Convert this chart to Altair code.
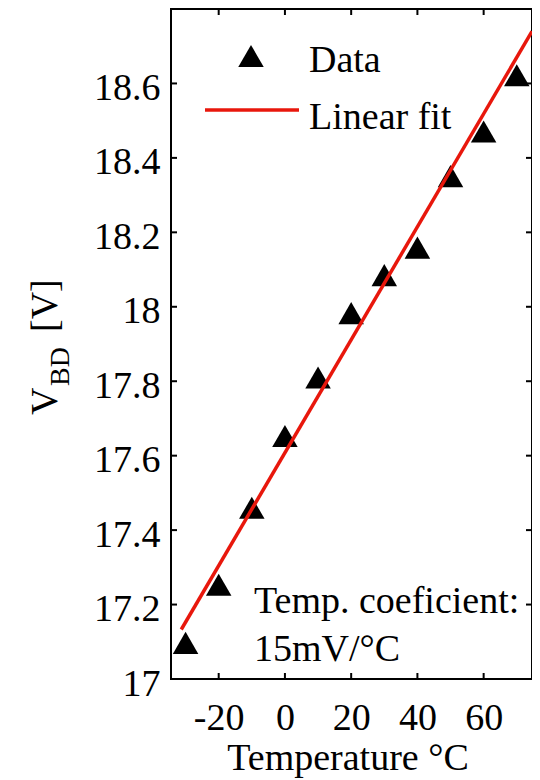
import altair as alt
import pandas as pd

# ---- data ----
temperature = [-30, -20, -10, 0, 10, 20, 30, 40, 50, 60, 70]
vbd = [17.097, 17.253, 17.460, 17.653, 17.810, 17.983, 18.085, 18.159, 18.351, 18.471, 18.622]
fit_temperature = [-31.3, 74.6]
fit_vbd = [17.133, 18.740]
x_ticks = [-20, 0, 20, 40, 60]
y_ticks = [17.0, 17.2, 17.4, 17.6, 17.8, 18.0, 18.2, 18.4, 18.6]
x_domain = [-34.4, 74.6]
y_domain = [17.0, 18.8]
legend_labels = ["Data", "Linear fit"]
note_lines = ["Temp. coeficient:", "15mV/°C"]
x_title = "Temperature °C"
y_title_parts = ["V", "BD", "[V]"]

W, H = 361, 670
PAD_LEFT = 163
FONT = "Liberation Serif"
FS = 38
RED = "#e8170c"
TL = 6  # inward tick length

data = pd.DataFrame({"T": temperature, "V": vbd})
fit = pd.DataFrame({"T": fit_temperature, "V": fit_vbd})
xt = pd.DataFrame({"T": x_ticks})
yt = pd.DataFrame({"V": y_ticks})
one = pd.DataFrame({"a": [0]})

xscale = alt.Scale(domain=x_domain, nice=False, zero=False)
yscale = alt.Scale(domain=y_domain, nice=False, zero=False)

xaxis = alt.Axis(values=x_ticks, labelExpr="toString(datum.value)", title=None,
                 domain=False, ticks=False, tickSize=0, grid=False,
                 labelFont=FONT, labelFontSize=FS, labelColor="black",
                 labelPadding=20, labelFlush=False, labelOverlap=False)
yaxis = alt.Axis(values=y_ticks, labelExpr="toString(datum.value)", title=None,
                 domain=False, ticks=False, tickSize=0, grid=False,
                 labelFont=FONT, labelFontSize=FS, labelColor="black",
                 labelPadding=11, labelOffset=5, labelFlush=False, labelOverlap=False)

X = alt.X("T:Q", scale=xscale, axis=xaxis)
Y = alt.Y("V:Q", scale=yscale, axis=yaxis)

points = alt.Chart(data).mark_point(shape="triangle-up", filled=True, size=650,
                                    color="black", opacity=1).encode(x=X, y=Y)
line = alt.Chart(fit).mark_line(color=RED, strokeWidth=3.5, clip=True).encode(x=X, y=Y)

tick_style = dict(color="black", strokeWidth=2)
xt_bottom = alt.Chart(xt).mark_rule(**tick_style).encode(x=X, y=alt.value(H), y2=alt.value(H - TL))
xt_top = alt.Chart(xt).mark_rule(**tick_style).encode(x=X, y=alt.value(0), y2=alt.value(TL))
yt_left = alt.Chart(yt).mark_rule(**tick_style).encode(y=Y, x=alt.value(0), x2=alt.value(TL))
yt_right = alt.Chart(yt).mark_rule(**tick_style).encode(y=Y, x=alt.value(W), x2=alt.value(W - TL))

txt = dict(font=FONT, fontSize=FS, color="black", align="left", baseline="alphabetic")

# legend
leg_tri = alt.Chart(one).mark_point(shape="triangle-up", filled=True, size=650,
                                    color="black", opacity=1).encode(x=alt.value(80), y=alt.value(47))
leg_line = alt.Chart(one).mark_rule(color=RED, strokeWidth=3.5).encode(
    x=alt.value(34), x2=alt.value(128), y=alt.value(101))
leg_t1 = alt.Chart(one).mark_text(text=legend_labels[0], **txt).encode(x=alt.value(138), y=alt.value(63))
leg_t2 = alt.Chart(one).mark_text(text=legend_labels[1], **txt).encode(x=alt.value(138), y=alt.value(120))

# annotation
note1 = alt.Chart(one).mark_text(text=note_lines[0], **txt).encode(x=alt.value(83), y=alt.value(604))
note2 = alt.Chart(one).mark_text(text=note_lines[1], **txt).encode(x=alt.value(83), y=alt.value(652))

# axis titles
xtitle = alt.Chart(one).mark_text(text=x_title, font=FONT, fontSize=FS, color="black",
                                  align="center", baseline="alphabetic").encode(
    x=alt.value(177), y=alt.value(761))
yt1 = alt.Chart(one).mark_text(text=y_title_parts[0], angle=270, **txt).encode(x=alt.value(-114), y=alt.value(406))
yt2 = alt.Chart(one).mark_text(text=y_title_parts[1], angle=270, font=FONT, fontSize=28, color="black",
                               align="left", baseline="alphabetic").encode(x=alt.value(-102), y=alt.value(377))
yt3 = alt.Chart(one).mark_text(text=y_title_parts[2], angle=270, **txt).encode(x=alt.value(-114), y=alt.value(323))

chart = alt.layer(
    points, line, xt_bottom, xt_top, yt_left, yt_right,
    leg_tri, leg_line, leg_t1, leg_t2, note1, note2, xtitle, yt1, yt2, yt3
).properties(
    width=W, height=H,
    autosize=alt.AutoSizeParams(type="none"),
    padding={"left": PAD_LEFT, "top": 1, "right": 0, "bottom": 100},
).configure_view(stroke="black", strokeWidth=2)

chart.save("out.html", embed_options={"renderer": "svg", "actions": False})
